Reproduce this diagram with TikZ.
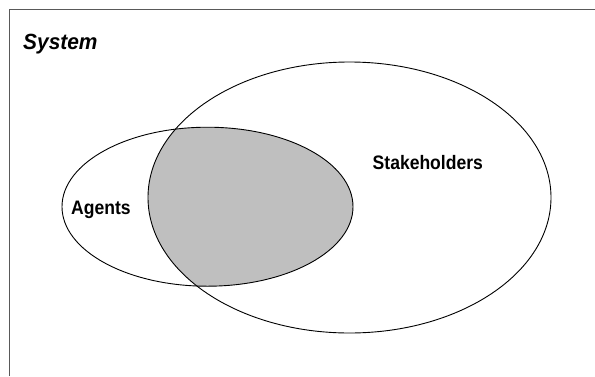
\documentclass[tikz,border=0pt]{standalone}
\usepackage{fontspec}
\setmainfont{Liberation Sans}
\newfontfamily\labelfont[FakeStretch=0.9]{Liberation Sans}
\newfontfamily\systemfont[FakeStretch=0.95]{Liberation Sans}
\begin{document}
\begin{tikzpicture}[x=1pt,y=-1pt,
  setline/.style={line width=0.9pt,black},
  frameline/.style={line width=1pt,black!65},
  setlabel/.style={inner sep=0pt,anchor=base west,font=\labelfont\bfseries\fontsize{19.5}{22}\selectfont},
  systemlabel/.style={inner sep=0pt,anchor=base west,font=\systemfont\bfseries\itshape\fontsize{22}{25}\selectfont}]
\useasboundingbox (0,0) rectangle (595,376);
\fill[white] (0,0) rectangle (595,376);
% frame (cut off at right and bottom)
\draw[frameline] (9.5,376) -- (9.5,9.5) -- (595,9.5);
% shaded intersection
\begin{scope}
  \clip (349.5,197.5) ellipse [x radius=201.5, y radius=135.5];
  \fill[gray!50] (207.5,206.7) ellipse [x radius=145.5, y radius=79.5];
\end{scope}
% outlines
\draw[setline] (349.5,197.5) ellipse [x radius=201.5, y radius=135.5];
\draw[setline] (207.5,206.7) ellipse [x radius=145.5, y radius=79.5];
% labels
\node[systemlabel] (system) at (23,49) {System};
\node[setlabel] (stakeholders) at (372.5,169) {Stakeholders};
\node[setlabel] (agents) at (71,214) {Agents};
\end{tikzpicture}
\end{document}
